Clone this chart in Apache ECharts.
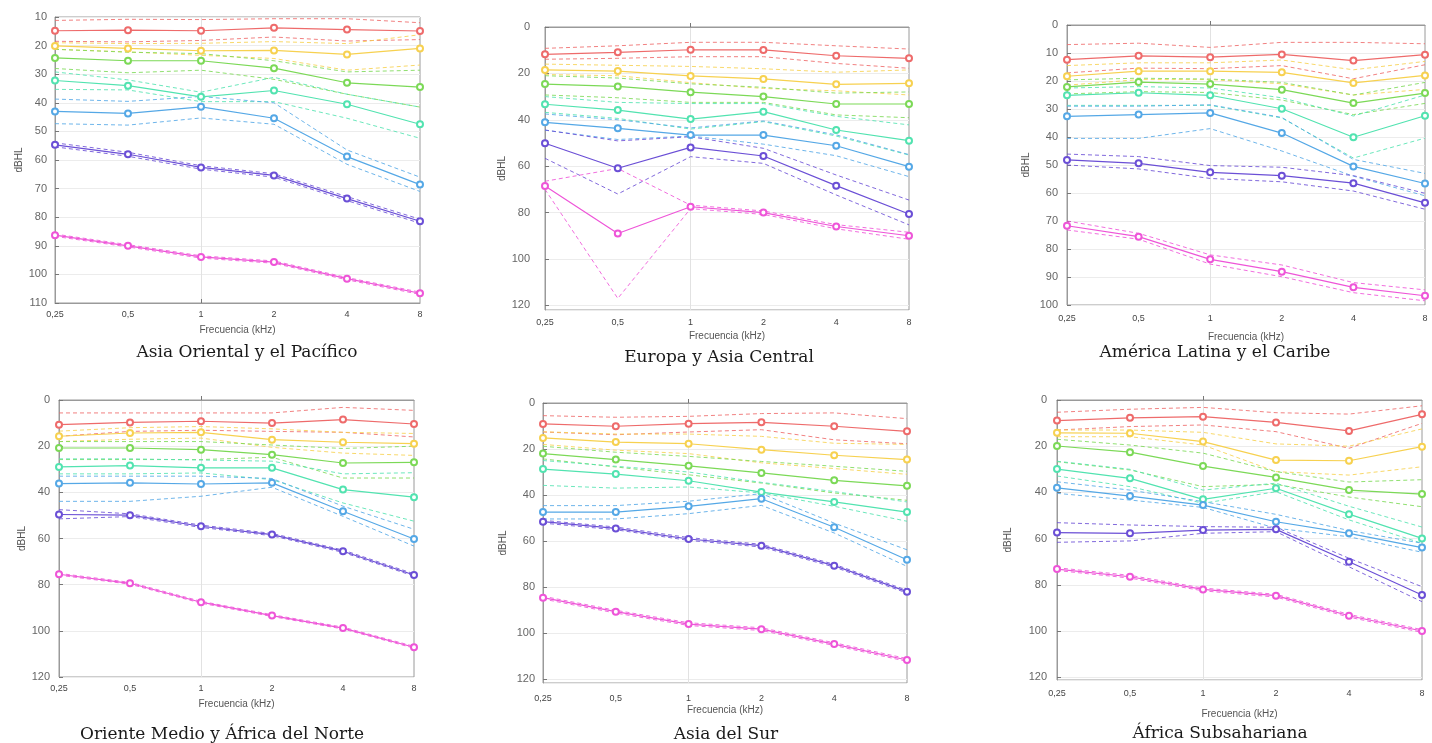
<!DOCTYPE html>
<html><head><meta charset="utf-8">
<script src="https://cdn.jsdelivr.net/npm/echarts@6/dist/echarts.min.js"></script>
<style>html,body{margin:0;padding:0;background:#fff}#c{width:1432px;height:743px}</style>
</head><body><div id="c"></div>
<script>
// ---------- DATA ----------
const categories = ['0,25', '0,5', '1', '2', '4', '8'];
const groupNames = ['Rojo', 'Amarillo', 'Verde', 'Turquesa', 'Azul', 'Morado', 'Magenta'];
const groupColors = ['#ee6b6b', '#f7d150', '#7cd957', '#52e3b0', '#55a8e6', '#6b4fd6', '#ee55d8'];
const panelTitles = ['Asia Oriental y el Pacífico', 'Europa y Asia Central', 'América Latina y el Caribe',
  'Oriente Medio y África del Norte', 'Asia del Sur', 'África Subsahariana'];
const yTickMin = [10, 0, 0, 0, 0, 0];
const yTickMax = [110, 122, 100, 120, 121.7, 121.2];
const yTickStep = [10, 20, 10, 20, 20, 20];

// Asia Oriental y el Pacífico
const eapMean = [[14.8,14.6,14.8,13.8,14.4,14.9],[20.1,21.0,21.8,21.7,23.1,21.0],[24.3,25.3,25.3,27.9,33.0,34.5],[32.2,34.0,37.9,35.7,40.5,47.5],[43.0,43.7,41.4,45.4,58.8,68.6],[54.7,58.0,62.6,65.4,73.5,81.4],[86.3,90.0,93.9,95.7,101.5,106.6]];
const eapLow  = [[11.2,10.8,10.9,10.6,10.6,12.0],[19.0,19.3,19.2,18.6,19.3,16.2],[21.3,22.3,22.8,25.3,29.2,28.6],[29.2,32.0,36.3,31.1,37.0,41.5],[38.7,39.5,37.8,40.0,56.5,66.0],[54.0,57.3,62.0,64.8,72.8,80.7],[85.9,89.6,93.5,95.3,101.1,106.2]];
const eapHigh = [[18.5,18.7,18.2,17.0,18.4,17.9],[21.3,22.2,23.4,24.5,28.6,26.8],[28.0,29.5,28.6,31.8,37.0,41.5],[35.3,35.5,39.6,39.6,45.4,52.4],[47.3,47.8,45.3,47.5,61.5,71.0],[55.4,58.7,63.2,66.0,74.2,82.1],[86.7,90.4,94.3,96.1,101.9,107.0]];
// Europa y Asia Central
const ecaMean = [[11.8,10.9,9.8,9.9,12.4,13.5],[18.5,19.0,21.1,22.4,24.7,24.3],[24.6,25.6,28.1,30.0,33.2,33.2],[33.3,35.8,39.7,36.5,44.4,49.0],[41.1,43.7,46.6,46.6,51.2,60.2],[50.1,60.9,51.9,55.6,68.4,80.6],[68.5,89.0,77.5,80.0,86.0,90.0]];
const ecaLow  = [[9.2,8.1,6.6,6.6,8.1,9.5],[16.0,16.5,17.0,18.0,19.5,18.5],[21.0,22.0,24.5,26.0,28.5,28.0],[30.0,32.5,33.0,33.0,38.5,42.2],[37.5,40.0,43.5,40.5,46.5,55.0],[44.4,49.1,47.3,52.3,63.8,74.6],[66.5,61.0,76.8,79.3,85.2,88.5]];
const ecaHigh = [[13.9,13.5,12.8,12.8,15.7,17.8],[20.5,21.0,24.0,26.5,27.5,29.3],[29.3,30.5,32.5,32.5,37.9,39.1],[36.8,39.4,44.0,40.8,47.0,55.2],[44.5,48.5,47.0,50.5,55.5,64.5],[56.6,72.0,55.9,58.8,72.4,85.3],[70.0,117.0,78.3,80.8,87.0,91.5]];
// América Latina y el Caribe
const lacMean = [[12.4,11.0,11.5,10.5,12.7,10.6],[18.3,16.5,16.5,16.9,20.7,18.0],[22.1,20.4,21.1,23.1,27.9,24.3],[25.1,24.2,25.1,29.9,40.1,32.4],[32.6,32.0,31.4,38.6,50.5,56.6],[48.2,49.4,52.6,53.8,56.5,63.5],[71.7,75.6,83.7,88.1,93.7,96.7]];
const lacLow  = [[7.0,6.5,8.0,6.2,6.2,6.7],[14.5,13.5,13.5,12.5,16.0,13.0],[19.6,19.0,19.3,20.5,25.0,20.5],[22.5,22.0,22.5,26.0,32.5,25.0],[29.0,29.0,28.5,33.0,48.0,53.0],[46.1,47.0,50.2,50.8,53.8,60.1],[70.0,74.4,82.1,85.7,92.0,94.6]];
const lacHigh = [[17.1,15.4,15.6,14.5,19.2,14.2],[21.5,19.5,19.5,21.0,25.0,23.0],[24.6,23.8,24.1,26.8,32.0,28.0],[28.7,28.7,28.7,33.2,47.5,40.4],[40.5,40.5,37.0,45.0,54.0,61.0],[50.0,51.4,54.8,56.0,59.3,65.8],[73.2,76.5,85.4,89.9,95.6,98.5]];
// Oriente Medio y África del Norte
const mnaMean = [[10.7,9.7,9.2,10.0,8.5,10.4],[15.7,14.3,14.0,17.2,18.3,18.9],[20.8,20.8,21.5,23.7,27.3,27.0],[29.0,28.4,29.4,29.4,38.8,42.1],[36.2,35.9,36.4,35.9,48.2,60.2],[49.6,49.9,54.7,58.3,65.5,75.8],[75.5,79.4,87.6,93.4,98.8,107.1]];
const mnaLow  = [[5.6,5.6,5.6,5.6,3.2,4.5],[13.5,12.0,11.5,12.5,14.0,14.5],[18.0,18.0,18.0,19.5,21.0,20.0],[25.5,25.5,26.0,26.5,32.0,31.5],[33.0,33.0,33.0,34.0,46.0,56.0],[47.5,49.3,54.2,57.8,65.0,75.3],[75.1,79.0,87.2,93.0,98.4,106.7]];
const mnaHigh = [[15.7,13.6,13.1,13.6,14.0,16.0],[18.0,17.0,16.5,20.5,23.0,24.0],[25.8,25.8,25.8,24.8,33.8,33.8],[32.0,32.0,31.6,34.5,44.6,52.5],[43.9,43.9,41.7,37.8,50.4,63.3],[51.5,50.5,55.2,58.8,66.0,76.3],[75.9,79.8,88.0,93.8,99.2,107.5]];
// Asia del Sur
const sarMean = [[9.1,10.1,9.0,8.4,10.1,12.3],[15.2,17.0,17.7,20.3,22.7,24.6],[22.0,24.6,27.3,30.4,33.6,36.0],[28.7,30.9,33.8,38.7,43.0,47.4],[47.4,47.4,44.9,41.6,54.0,68.1],[51.6,54.5,59.1,62.0,70.7,82.0],[84.6,90.7,96.1,98.3,104.8,111.7]];
const sarLow  = [[5.5,6.2,5.8,4.6,4.3,6.8],[12.5,13.5,13.5,14.5,17.5,18.0],[18.8,21.4,23.2,25.4,27.5,29.7],[25.0,27.5,30.0,34.5,38.5,43.0],[44.6,44.6,42.7,39.4,52.2,63.8],[51.0,53.9,58.5,61.4,70.1,81.4],[84.0,90.1,95.5,97.7,104.2,111.1]];
const sarHigh = [[12.6,13.8,12.6,11.6,16.0,17.7],[18.0,20.5,22.0,26.0,28.5,31.0],[24.3,27.8,31.2,34.8,39.1,42.3],[35.8,37.0,36.5,39.1,44.9,51.4],[50.4,50.4,48.1,44.5,56.5,71.0],[52.2,55.1,59.7,62.6,71.3,82.6],[85.2,91.3,96.7,98.9,105.4,112.3]];
// África Subsahariana
const ssaMean = [[8.9,7.7,7.2,9.7,13.4,6.2],[14.2,14.4,18.0,26.0,26.3,20.2],[19.9,22.6,28.6,33.5,39.0,40.7],[29.9,33.9,43.0,38.2,49.4,59.9],[38.0,41.6,45.5,52.7,57.7,63.9],[57.4,57.7,56.3,56.0,70.0,84.4],[73.2,76.5,82.0,84.7,93.4,100.0]];
const ssaLow  = [[5.3,4.0,3.2,5.5,6.1,2.5],[13.0,13.0,14.0,19.0,20.0,12.5],[17.0,19.5,23.0,31.0,35.5,34.5],[26.5,30.0,39.0,36.0,46.0,55.0],[35.4,39.0,44.0,49.5,56.5,62.0],[53.1,54.1,54.8,55.1,68.5,80.8],[72.6,75.9,81.4,84.1,92.8,99.4]];
const ssaHigh = [[13.0,11.5,10.8,13.7,20.9,10.1],[15.9,15.9,19.5,31.0,32.5,28.9],[26.7,30.3,37.5,36.5,42.0,46.2],[32.9,37.5,44.7,39.7,51.9,62.0],[40.4,43.3,46.5,55.5,59.2,65.9],[61.6,61.0,57.7,57.0,72.2,87.3],[73.8,77.1,82.6,85.3,94.0,100.6]];

const panelMeans = [eapMean, ecaMean, lacMean, mnaMean, sarMean, ssaMean];
const panelLows  = [eapLow, ecaLow, lacLow, mnaLow, sarLow, ssaLow];
const panelHighs = [eapHigh, ecaHigh, lacHigh, mnaHigh, sarHigh, ssaHigh];

// ---------- LAYOUT ----------
const layout = [
  {left:55,  top:17,  width:365, height:286, xlm:7,  xng:22, ylm:8,  yng:25, tx:247,  ty:353},
  {left:545, top:27,  width:364, height:283, xlm:8,  xng:21, ylm:15, yng:37, tx:719,  ty:358},
  {left:1067,top:25,  width:358, height:280, xlm:9,  xng:27, ylm:9,  yng:36, tx:1215, ty:353},
  {left:59,  top:400, width:355, height:277, xlm:7,  xng:22, ylm:9,  yng:31, tx:222,  ty:735},
  {left:543, top:403, width:364, height:280, xlm:11, xng:22, ylm:8,  yng:35, tx:726,  ty:735},
  {left:1057,top:400, width:365, height:280, xlm:9,  xng:29, ylm:10, yng:44, tx:1220, ty:734}
];
const sans = 'Liberation Sans, Arial, sans-serif';
const grids = [], xAxes = [], yAxes = [], series = [], graphics = [];
layout.forEach((L, p) => {
  const maxIsTick = Math.abs(yTickMax[p] / yTickStep[p] - Math.round(yTickMax[p] / yTickStep[p])) < 1e-6;
  grids.push({left:L.left, top:L.top, width:L.width, height:L.height, show:true,
    borderColor:'#9a9a9a', borderWidth:1, containLabel:false});
  xAxes.push({type:'category', gridIndex:p, data:categories, boundaryGap:false,
    name:'Frecuencia (kHz)', nameLocation:'middle', nameGap:L.xng,
    nameTextStyle:{fontSize:10, color:'#555', fontFamily:sans},
    axisLine:{show:true, lineStyle:{color:'#9a9a9a'}},
    axisTick:{show:true, inside:true, length:4, interval:(i)=>i===2, lineStyle:{color:'#777'}},
    axisLabel:{fontSize:9, color:'#444', margin:L.xlm, fontFamily:sans, interval:0},
    splitLine:{show:true, interval:(i)=>i===2, lineStyle:{color:'#e2e2e2', width:1}}});
  yAxes.push({type:'value', gridIndex:p, inverse:true, min:yTickMin[p], max:yTickMax[p], interval:yTickStep[p],
    name:'dBHL', nameLocation:'middle', nameGap:L.yng,
    nameTextStyle:{fontSize:10, color:'#555', fontFamily:sans},
    axisLine:{show:true, lineStyle:{color:'#9a9a9a'}},
    axisTick:{show:true, inside:true, length:4, lineStyle:{color:'#777'}},
    axisLabel:{fontSize:11, color:'#666', margin:L.ylm, fontFamily:sans, showMaxLabel:maxIsTick,
      formatter:(v)=> (maxIsTick || Math.abs(v - yTickMax[p]) > 1e-6) ? String(v) : ''},
    splitLine:{show:true, lineStyle:{color:'#ececec', width:1}}});
  graphics.push({type:'text', x:L.tx, y:L.ty, style:{text:panelTitles[p],
    font:'17px "DejaVu Serif", serif', fill:'#1a1a1a', textAlign:'center', textVerticalAlign:'middle'}});
  for (let g = 0; g < 7; g++) {
    const c = groupColors[g];
    [panelLows[p][g], panelHighs[p][g]].forEach((arr, k) => {
      series.push({type:'line', name:groupNames[g] + (k ? ' sup' : ' inf'), xAxisIndex:p, yAxisIndex:p,
        data:arr, symbol:'none', silent:true, z:2,
        lineStyle:{color:c, width:1, type:[4,3], opacity:0.85}});
    });
    series.push({type:'line', name:groupNames[g], xAxisIndex:p, yAxisIndex:p, data:panelMeans[p][g],
      symbol:'emptyCircle', symbolSize:6, z:3,
      itemStyle:{color:c, borderColor:c, borderWidth:1},
      lineStyle:{color:c, width:1.2}});
  }
});
const chart = echarts.init(document.getElementById('c'), null, {renderer:'canvas'});
chart.setOption({
  animation:false,
  backgroundColor:'#ffffff',
  grid:grids, xAxis:xAxes, yAxis:yAxes, series:series,
  graphic: graphics
});
</script></body></html>
